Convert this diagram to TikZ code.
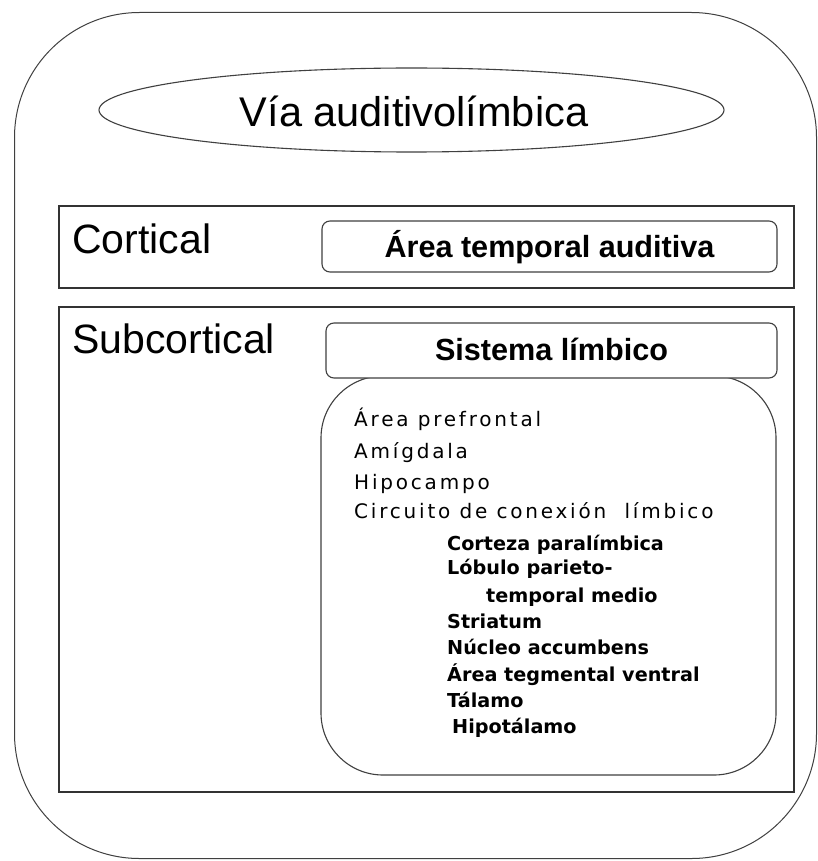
\documentclass[tikz,border=0pt]{standalone}
\usepackage{fontspec}
\setmainfont{Liberation Sans}
\newfontfamily\listfont[LetterSpace=14]{DejaVu Sans}
\newfontfamily\sublistfont{DejaVu Sans}
\usetikzlibrary{shapes.geometric}
\tikzset{
  outline/.style={draw=black!75, line width=1pt, inner sep=0pt},
  sectionbox/.style={draw=black!80, line width=1.4pt, inner sep=0pt},
  labelbox/.style={draw=black!75, line width=1.1pt, rounded corners=8pt, fill=white, inner sep=0pt},
  txt/.style={inner sep=0pt, text=black},
  bigtitle/.style={txt, font=\fontsize{41.5}{41.5}\selectfont},
  sectitle/.style={txt, anchor=base west, font=\fontsize{41}{41}\selectfont},
  boxtitle/.style={txt, anchor=base, font=\bfseries\fontsize{30.6}{30.6}\selectfont},
  item/.style={txt, anchor=base west, font=\listfont\fontsize{20}{20}\selectfont},
  subitem/.style={txt, anchor=base west, font=\sublistfont\bfseries\fontsize{19.2}{19.2}\selectfont}
}
\begin{document}
\begin{tikzpicture}[x=1pt,y=-1pt]
\useasboundingbox (0,0) rectangle (818,861);
\fill[white] (0,0) rectangle (818,861);

% outer rounded frame
\node[outline, rounded corners=125pt, minimum width=802pt, minimum height=846pt] (outer) at (415.5,435.5) {};

% title ellipse
\node[outline, ellipse, line width=1.1pt, minimum width=625pt, minimum height=84pt] (titleell) at (411.5,110) {};
\node[bigtitle, anchor=base] (title) at (414,127) {Vía auditivolímbica};

% cortical section
\node[sectionbox, minimum width=735pt, minimum height=82pt] (cortbox) at (426.5,247) {};
\node[sectitle] (cortical) at (72,253) {Cortical};
\node[labelbox, minimum width=455pt, minimum height=51pt] (areabox) at (549.5,246.5) {};
\node[boxtitle] (area) at (549.5,257) {Área temporal auditiva};

% subcortical section
\node[sectionbox, minimum width=735pt, minimum height=485pt] (subbox) at (426.5,549.5) {};
\node[sectitle] (subcortical) at (72,353) {Subcortical};
\node[outline, line width=1.1pt, rounded corners=62pt, minimum width=455pt, minimum height=399pt] (listbox) at (548.5,575.5) {};
\node[labelbox, minimum width=451pt, minimum height=55pt] (sisbox) at (551.5,350.5) {};
\node[boxtitle] (sistema) at (551.5,360) {Sistema límbico};

% list
\node[item] (i1) at (354,426) {Área prefrontal};
\node[item] (i2) at (354,458) {Amígdala};
\node[item] (i3) at (354,489) {Hipocampo};
\node[item] (i4) at (354,518) {Circuito de conexión\ \ límbico};

\node[subitem] (s1) at (447,550) {Corteza paralímbica};
\node[subitem] (s2) at (447,574) {Lóbulo parieto-};
\node[subitem] (s3) at (486,602) {temporal medio};
\node[subitem] (s4) at (447,628) {Striatum};
\node[subitem] (s5) at (447,654) {Núcleo accumbens};
\node[subitem] (s6) at (447,681) {Área tegmental ventral};
\node[subitem] (s7) at (447,707) {Tálamo};
\node[subitem] (s8) at (452,733) {Hipotálamo};
\end{tikzpicture}
\end{document}
